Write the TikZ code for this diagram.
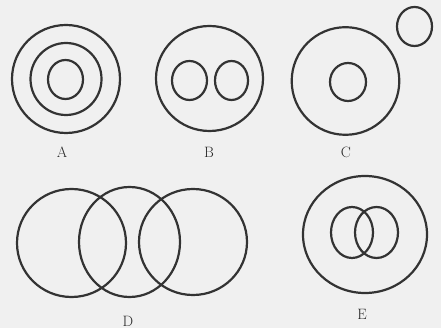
\documentclass[tikz,border=0pt]{standalone}
\begin{document}
\begin{tikzpicture}[x=1pt,y=-1pt,
  ring/.style={draw=black!80,line width=2.2pt},
  lab/.style={font=\fontsize{15}{17}\selectfont,text=black!85,inner sep=0pt}]
\fill[black!6] (0,0) rectangle (441,328);
\useasboundingbox (0,0) rectangle (441,328);
% A
\draw[ring] (66,79) circle [radius=54];
\draw[ring] (66,79) ellipse [x radius=35.5,y radius=36];
\draw[ring] (65.5,79.5) ellipse [x radius=17.5,y radius=19.5];
\node[lab] (la) at (62,152) {A};
% B
\draw[ring] (209.5,78.5) ellipse [x radius=53.5,y radius=52.5];
\draw[ring] (189.5,80.5) ellipse [x radius=17.5,y radius=19.5];
\draw[ring] (231.5,80.5) ellipse [x radius=16.5,y radius=19.5];
\node[lab] (lb) at (209,152) {B};
% C
\draw[ring] (345.5,81) circle [radius=53.8];
\draw[ring] (348,82) ellipse [x radius=18,y radius=19];
\draw[ring] (414.5,26.5) ellipse [x radius=17.5,y radius=19.5];
\node[lab] (lc) at (346,152) {C};
% D
\draw[ring] (71.5,243) ellipse [x radius=54.5,y radius=54];
\draw[ring] (129.5,242) ellipse [x radius=50.5,y radius=55];
\draw[ring] (193,242) ellipse [x radius=54,y radius=53];
\node[lab] (ld) at (128,321) {D};
% E
\draw[ring] (365,234.5) ellipse [x radius=62,y radius=58.5];
\draw[ring] (352,232.5) ellipse [x radius=21,y radius=25.5];
\draw[ring] (376.5,232.5) ellipse [x radius=21.5,y radius=25.5];
\node[lab] (le) at (362,314) {E};
\end{tikzpicture}
\end{document}
